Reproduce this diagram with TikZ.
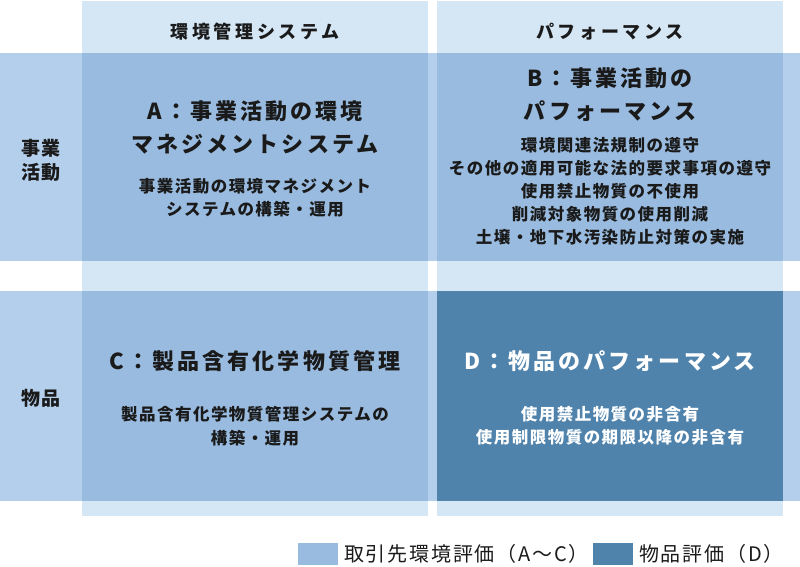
\documentclass[tikz,border=0pt]{standalone}
\usepackage{fontspec}
\setmainfont{Noto Sans CJK JP}
\definecolor{colL}{HTML}{D5E6F4}
\definecolor{rowL}{HTML}{B4CFEC}
\definecolor{cellM}{HTML}{99BBDF}
\definecolor{cellD}{HTML}{4F83AC}
\definecolor{txt}{HTML}{1A1A1A}
\tikzset{
  title/.style={align=center,text=txt,font=\bfseries\fontsize{22}{33}\selectfont\addfontfeature{LetterSpace=14},inner sep=0pt},
  sub/.style={align=center,text=txt,font=\bfseries\fontsize{16.5}{23.5}\selectfont\addfontfeature{LetterSpace=9},inner sep=0pt},
  head/.style={align=center,text=txt,font=\bfseries\fontsize{18}{22}\selectfont\addfontfeature{LetterSpace=20},inner sep=0pt},
  lab/.style={align=center,text=txt,font=\bfseries\fontsize{19}{24}\selectfont\addfontfeature{LetterSpace=10},inner sep=0pt},
  leg/.style={anchor=west,text=txt,font=\fontsize{20}{24}\selectfont\addfontfeature{LetterSpace=9},inner sep=0pt},
}
\begin{document}
\begin{tikzpicture}[x=1pt,y=-1pt]
\useasboundingbox (0,0) rectangle (800,567);
% columns
\fill[colL] (82,1) rectangle (428,516);
\fill[colL] (437,1) rectangle (783,516);
% rows
\fill[rowL] (0,53) rectangle (800,261);
\fill[rowL] (0,291) rectangle (800,501);
% cells
\fill[cellM] (82,53) rectangle (428,261);
\fill[cellM] (437,53) rectangle (783,261);
\fill[cellM] (82,291) rectangle (428,501);
\fill[cellD] (437,291) rectangle (783,501);
% headers
\node[head] (h1) at (255,32) {環境管理システム};
\node[head] (h2) at (610,32) {パフォーマンス};
% row labels
\node[lab] (r1) at (41,160) {事業\\活動};
\node[lab] (r2) at (41,398) {物品};
% cell A
\node[title] (at) at (255,127) {A：事業活動の環境\\マネジメントシステム};
\node[sub] (as) at (255,198) {事業活動の環境マネジメント\\システムの構築・運用};
% cell B
\node[title] (bt) at (610,95) {B：事業活動の\\パフォーマンス};
\node[sub,font=\bfseries\fontsize{16.5}{23}\selectfont\addfontfeature{LetterSpace=9}] (bs) at (610,191) {環境関連法規制の遵守\\その他の適用可能な法的要求事項の遵守\\使用禁止物質の不使用\\削減対象物質の使用削減\\土壌・地下水汚染防止対策の実施};
% cell C
\node[title] (ct) at (255,361) {C：製品含有化学物質管理};
\node[sub] (cs) at (255,426) {製品含有化学物質管理システムの\\構築・運用};
% cell D
\node[title,text=white] (dt) at (610,361) {D：物品のパフォーマンス};
\node[sub,text=white] (ds) at (610,426) {使用禁止物質の非含有\\使用制限物質の期限以降の非含有};
% legend
\fill[cellM] (298,543) rectangle (338,565);
\node[leg] (l1) at (344,554) {取引先環境評価（A〜C）};
\fill[cellD] (593,543) rectangle (633,565);
\node[leg] (l2) at (639,554) {物品評価（D）};
\end{tikzpicture}
\end{document}
